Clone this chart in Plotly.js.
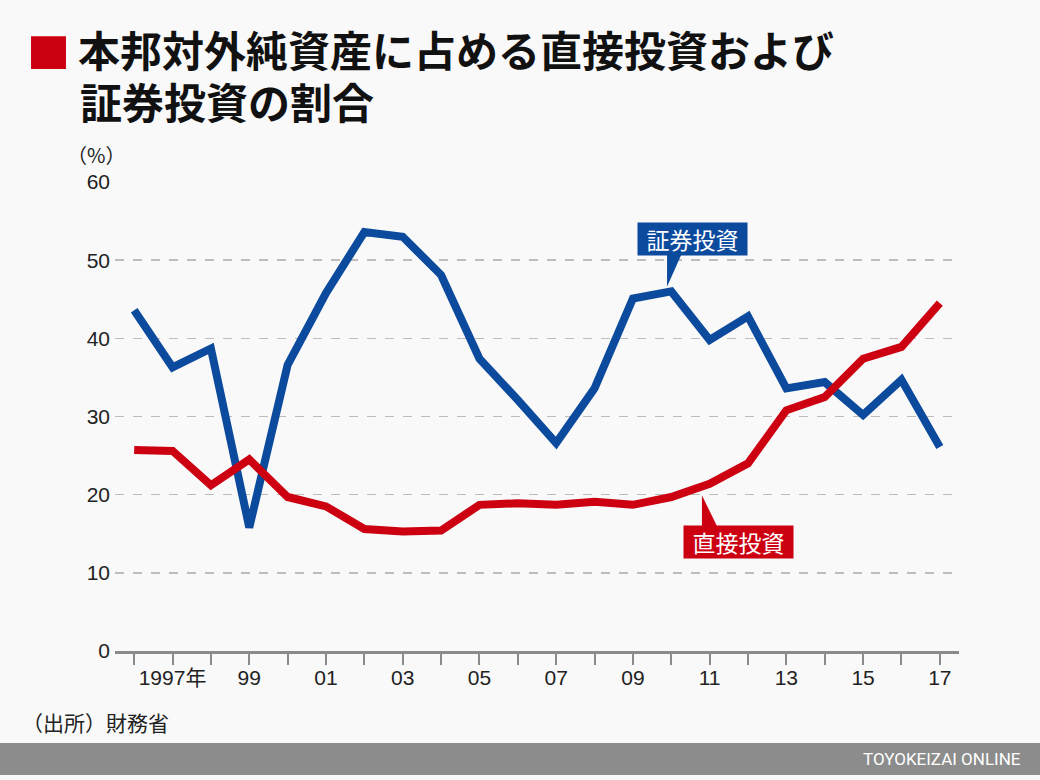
<!DOCTYPE html>
<html>
<head>
<meta charset="utf-8">
<script src="https://cdn.plot.ly/plotly-3.0.1.min.js"></script>
<style>html,body{margin:0;padding:0;background:#f9f9f9;}#chart{width:1040px;height:780px;}</style>
</head>
<body>
<div id="chart"></div>
<script>
const years = [1996,1997,1998,1999,2000,2001,2002,2003,2004,2005,2006,2007,2008,2009,2010,2011,2012,2013,2014,2015,2016,2017];
const portfolio = [43.6,36.3,38.7,15.8,36.6,45.8,53.6,53.0,48.1,37.4,32.1,26.6,33.6,45.1,46.0,39.8,42.8,33.6,34.4,30.2,34.7,26.1];
const direct = [25.7,25.6,21.2,24.5,19.7,18.5,15.6,15.3,15.4,18.7,18.9,18.7,19.1,18.7,19.7,21.4,24.0,30.8,32.5,37.4,38.9,44.5];
const tickLabels = ['', '1997年', '', '99', '', '01', '', '03', '', '05', '', '07', '', '09', '', '11', '', '13', '', '15', '', '17'];
const yTicks = [0,10,20,30,40,50,60];
const titleLine1 = '本邦対外純資産に占める直接投資および';
const titleLine2 = '証券投資の割合';
const seriesNames = ['証券投資','直接投資'];

const BLUE = '#0b4a9c', RED = '#cc0011';
const FONT = '"Liberation Sans", Arial, "Noto Sans CJK JP", sans-serif';
const CJK = '"Noto Sans CJK JP", sans-serif';
const NARROW = '"Liberation Sans Narrow", "Roboto", "Noto Sans CJK JP", sans-serif';

const traces = [
  {x: years, y: portfolio, name: seriesNames[0], type: 'scatter', mode: 'lines', line: {color: BLUE, width: 8}},
  {x: years, y: direct, name: seriesNames[1], type: 'scatter', mode: 'lines', line: {color: RED, width: 8}}
];

const layout = {
  width: 1040, height: 780,
  margin: {l: 115, r: 81, t: 182, b: 129},
  paper_bgcolor: '#f9f9f9', plot_bgcolor: '#f9f9f9',
  showlegend: false,
  font: {family: FONT, color: '#222', size: 20},
  title: {
    text: titleLine1, xref: 'container', yref: 'container',
    x: 78 / 1040, xanchor: 'left', y: 1 - 52 / 780, yanchor: 'middle',
    font: {family: CJK, size: 42, color: '#111', weight: 'bold'}
  },
  xaxis: {
    range: [1995.5, 2017.5], tickmode: 'array', tickvals: years, ticktext: tickLabels,
    ticks: 'outside', ticklen: 11, tickwidth: 2, tickcolor: '#8a8a8a', ticklabelstandoff: -5,
    showline: true, linecolor: '#8a8a8a', linewidth: 3, showgrid: false, zeroline: false,
    tickfont: {family: FONT, size: 21, color: '#222'}, fixedrange: true
  },
  yaxis: {
    range: [0, 60], tickmode: 'array', tickvals: yTicks,
    showgrid: true, gridcolor: '#bdbdbd', griddash: 'dash', gridwidth: 1.5,
    zeroline: false, showline: false, ticks: '', ticklabelstandoff: 4,
    tickfont: {family: FONT, size: 21, color: '#222'}, fixedrange: true
  },
  shapes: [
    {type: 'rect', xref: 'paper', yref: 'paper', x0: -0.0995, x1: -0.0581, y0: 1.241, y1: 1.311, fillcolor: RED, line: {width: 0}},
    {type: 'rect', xref: 'paper', yref: 'paper', x0: -0.14, x1: 1.10, y0: -0.2644, y1: -0.1962, fillcolor: '#8c8c8c', line: {width: 0}, layer: 'below'},
    {type: 'path', xref: 'x', yref: 'y', path: 'M 2009.89 46.6 L 2009.89 50.8 L 2010.27 50.8 Z', fillcolor: BLUE, line: {width: 0}},
    {type: 'path', xref: 'x', yref: 'y', path: 'M 2010.8 19.9 L 2010.8 15.9 L 2011.2 15.9 Z', fillcolor: RED, line: {width: 0}}
  ],
  annotations: [
    {xref: 'paper', yref: 'paper', x: -0.0438, y: 1.1748, xanchor: 'left', yanchor: 'middle', showarrow: false,
     text: titleLine2, font: {family: CJK, size: 42, color: '#111', weight: 'bold'}},
    {xref: 'paper', yref: 'paper', x: -0.0592, y: 1.0576, xanchor: 'left', yanchor: 'middle', showarrow: false,
     text: '（%）', font: {family: CJK, size: 20, color: '#222'}},
    {xref: 'paper', yref: 'paper', x: -0.1126, y: -0.1514, xanchor: 'left', yanchor: 'middle', showarrow: false,
     text: '（出所）財務省', font: {family: CJK, size: 21, color: '#222'}},
    {xref: 'paper', yref: 'paper', x: 1.0758, y: -0.2303, xanchor: 'right', yanchor: 'middle', showarrow: false,
     text: 'TOYOKEIZAI ONLINE', font: {family: NARROW, size: 17, color: '#ffffff'}},
    {xref: 'x', yref: 'y', x: 2010.55, y: 52.7, showarrow: false, text: seriesNames[0],
     bgcolor: BLUE, width: 109, height: 32, borderpad: 0, font: {family: CJK, size: 23, color: '#ffffff'}},
    {xref: 'x', yref: 'y', x: 2011.74, y: 13.9, showarrow: false, text: seriesNames[1],
     bgcolor: RED, width: 109, height: 32, borderpad: 0, font: {family: CJK, size: 23, color: '#ffffff'}}
  ]
};

Plotly.newPlot('chart', traces, layout, {displayModeBar: false, staticPlot: true});
</script>
</body>
</html>
